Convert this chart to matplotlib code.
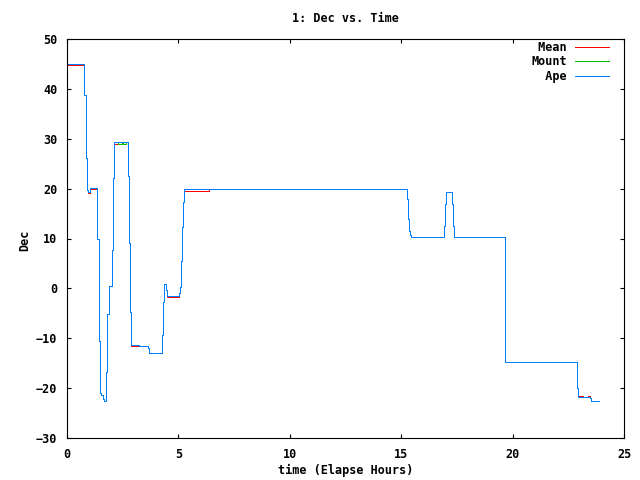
import matplotlib
matplotlib.use("Agg")
import matplotlib.pyplot as plt

# step data (time in hours, dec in degrees), drawn as steps-post
ape_t = [0.00, 0.78, 0.84, 0.88, 0.93, 1.03, 1.36, 1.42, 1.47, 1.54, 1.60, 1.64,
         1.77, 1.81, 1.87, 2.03, 2.08, 2.12, 2.75, 2.80, 2.85, 2.89, 3.23, 3.62,
         3.67, 4.28, 4.32, 4.37, 4.46, 4.49, 5.04, 5.08, 5.13, 5.17, 5.22, 5.27,
         15.28, 15.30, 15.37, 15.41, 15.45, 16.93, 16.98, 17.02, 17.29, 17.34,
         17.38, 19.65, 22.88, 22.90, 22.95, 23.47, 23.52, 23.86]
ape_v = [45.0, 38.8, 26.2, 19.7, 19.4, 20.2, 9.85, -10.6, -21.0, -21.3, -22.2, -22.6,
         -16.8, -5.2, 0.5, 7.7, 22.2, 29.3, 22.6, 9.05, -4.65, -11.3, -11.6, -12.0,
         -12.9, -9.4, -2.7, 0.85, -0.3, -1.5, -1.0, 0.2, 5.4, 12.3, 17.3, 19.9,
         17.9, 13.9, 11.6, 10.7, 10.3, 12.5, 17.0, 19.3, 17.0, 12.5,
         10.3, -14.8, -16.5, -20.0, -21.8, -22.0, -22.5, -22.5]

mean_t = [0.00, 0.78, 0.84, 0.88, 0.93, 1.03, 1.36, 1.42, 1.47, 1.54, 1.60, 1.64,
          1.77, 1.81, 1.87, 2.03, 2.08, 2.12, 2.27, 2.75, 2.80, 2.85, 2.89, 3.25,
          3.62, 3.67, 4.28, 4.32, 4.37, 4.46, 4.49, 5.04, 5.08, 5.13, 5.17, 5.22,
          5.27, 6.36, 15.28, 15.30, 15.37, 15.41, 15.45, 16.93, 16.98, 17.02,
          17.29, 17.34, 17.38, 19.65, 22.88, 22.90, 22.95, 23.17, 23.37, 23.47,
          23.52, 23.86]
mean_v = [44.8, 38.8, 26.2, 19.7, 19.2, 20.0, 9.85, -10.6, -21.0, -21.3, -22.2, -22.6,
          -16.8, -5.2, 0.5, 7.7, 22.2, 29.0, 29.3, 22.6, 9.05, -4.65, -11.6, -11.6,
          -12.0, -12.9, -9.4, -2.7, 0.85, -0.3, -1.8, -1.0, 0.2, 5.4, 12.3, 17.3,
          19.6, 19.9, 17.9, 13.9, 11.6, 10.7, 10.3, 12.5, 17.0, 19.3,
          17.0, 12.5, 10.3, -14.8, -16.5, -20.0, -21.6, -21.8, -21.6, -22.0,
          -22.5, -22.5]

mount_t = [0.00, 0.78, 0.84, 0.88, 0.93, 1.03, 1.36, 1.42, 1.47, 1.54, 1.60, 1.64,
           1.77, 1.81, 1.87, 2.03, 2.08, 2.12, 2.27, 2.45, 2.53, 2.63, 2.75, 2.80,
           2.85, 2.89, 3.23, 3.62, 3.67, 4.28, 4.32, 4.37, 4.46, 4.49, 5.04, 5.08,
           5.13, 5.17, 5.22, 5.27, 15.28, 15.30, 15.37, 15.41, 15.45, 16.93, 16.98,
           17.02, 17.29, 17.34, 17.38, 19.65, 22.88, 22.90, 22.95, 23.47, 23.52, 23.86]
mount_v = [45.0, 38.8, 26.2, 19.7, 19.4, 20.2, 9.85, -10.6, -21.0, -21.3, -22.2, -22.6,
           -16.8, -5.1, 0.5, 7.7, 22.2, 29.3, 29.0, 29.3, 29.0, 29.3, 22.6, 9.05,
           -4.65, -11.3, -11.6, -12.0, -12.9, -9.4, -2.7, 0.85, -0.3, -1.5, -1.0, 0.2,
           5.4, 12.3, 17.3, 19.9, 17.9, 13.9, 11.6, 10.7, 10.3, 12.5, 17.0,
           19.3, 17.0, 12.5, 10.3, -14.8, -16.5, -20.0, -21.8, -22.0, -22.5, -22.5]

x_ticks = [0, 5, 10, 15, 20, 25]
y_ticks = [-30, -20, -10, 0, 10, 20, 30, 40, 50]

font = {"family": "DejaVu Sans Mono", "weight": "bold", "size": 8.5}
fp = matplotlib.font_manager.FontProperties(**font)

fig = plt.figure(figsize=(6.4, 4.8), dpi=100)
ax = fig.add_axes([67 / 640, 42 / 480, 557 / 640, 399 / 480])

lw = 0.72  # about one pixel
ax.plot(mean_t, mean_v, drawstyle="steps-post", color="#ff0000", lw=lw,
        snap=True, label=" Mean")
ax.plot(mount_t, mount_v, drawstyle="steps-post", color="#00c000", lw=lw,
        snap=True, label="Mount")
ax.plot(ape_t, ape_v, drawstyle="steps-post", color="#0080ff", lw=lw,
        snap=True, label="  Ape")

ax.set_xlim(0, 25)
ax.set_ylim(-30, 50)
ax.set_xticks(x_ticks)
ax.set_yticks(y_ticks)
ax.tick_params(direction="in", length=3, width=0.8, top=True, right=True, pad=7)
for lbl in ax.get_xticklabels() + ax.get_yticklabels():
    lbl.set_fontproperties(fp)
for s in ax.spines.values():
    s.set_linewidth(0.8)

leg = ax.legend(loc="upper right", bbox_to_anchor=(1 - 15 / 557, 1 - 2 / 399),
                frameon=False, markerfirst=False, borderpad=0, borderaxespad=0,
                handlelength=2.85, handletextpad=0.7, labelspacing=0.12, prop=fp)

fig.text(345.5 / 640, 1 - 18 / 480, "1: Dec vs. Time", ha="center", va="center", **font)
fig.text(345.5 / 640, 1 - 470 / 480, "time (Elapse Hours)", ha="center", va="center", **font)
fig.text(25 / 640, 1 - 240 / 480, "Dec", ha="center", va="center", rotation=90, **font)

plt.savefig("out.png", dpi=100)
